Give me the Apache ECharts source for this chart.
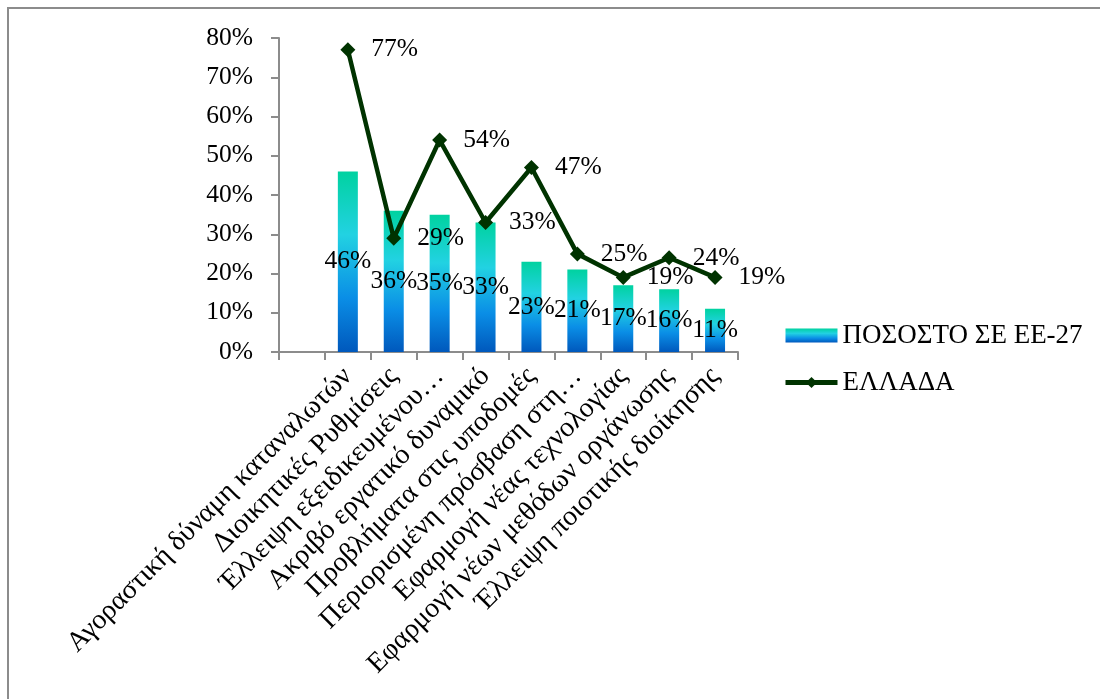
<!DOCTYPE html>
<html>
<head>
<meta charset="utf-8">
<script src="https://cdn.jsdelivr.net/npm/echarts@6/dist/echarts.min.js"></script>
<style>
  html, body { margin: 0; padding: 0; background: #fff; }
  #chart { width: 1100px; height: 699px; }
</style>
</head>
<body>
<div id="chart"></div>
<script>
// Categories (first slot is left empty on the axis)
const categories = [
  '',
  'Αγοραστική δύναμη καταναλωτών',
  'Διοικητικές Ρυθμίσεις',
  'Έλλειψη εξειδικευμένου…',
  'Ακριβό εργατικό δυναμικό',
  'Προβλήματα στις υποδομές',
  'Περιορισμένη πρόσβαση στη…',
  'Εφαρμογή νέας τεχνολογίας',
  'Εφαρμογή νέων μεθόδων οργάνωσης',
  'Έλλειψη ποιοτικής διοίκησης'
];
// Share in EU-27 (%)
const euValues = [null, 46, 36, 35, 33, 23, 21, 17, 16, 11];
// Greece (%)
const greeceValues = [null, 77, 29, 54, 33, 47, 25, 19, 24, 19];
// Value axis tick labels
const yTicks = [0, 10, 20, 30, 40, 50, 60, 70, 80];

const FONT = '"Liberation Serif", "Times New Roman", serif';
const FS = 25.5;
const chart = echarts.init(document.getElementById('chart'), null, { renderer: 'canvas' });

const barGradient = new echarts.graphic.LinearGradient(0, 0, 0, 1, [
  { offset: 0, color: '#00d2a0' },
  { offset: 0.35, color: '#22d2e2' },
  { offset: 0.7, color: '#0a8ee6' },
  { offset: 1, color: '#0058bc' }
]);

chart.setOption({
  animation: false,
  backgroundColor: '#ffffff',
  graphic: [{
    type: 'rect',
    shape: { x: 8, y: 8, width: 1200, height: 800 },
    style: { fill: 'none', stroke: '#8c8c8c', lineWidth: 2 },
    silent: true,
    z: -1
  }],
  grid: { left: 279, right: 362, top: 38, bottom: 347, containLabel: false },
  legend: {
    orient: 'vertical',
    left: 778,
    top: 317,
    itemWidth: 52,
    itemHeight: 14,
    itemGap: 20,
    textStyle: { fontFamily: FONT, fontSize: 27, color: '#000' },
    data: [
      { name: 'ΠΟΣΟΣΤΟ ΣΕ ΕΕ-27', icon: 'rect' },
      { name: 'ΕΛΛΑΔΑ' }
    ],
    lineStyle: { width: 5 }
  },
  xAxis: {
    type: 'category',
    data: categories,
    boundaryGap: true,
    axisLine: { lineStyle: { color: '#8c8c8c', width: 2 } },
    axisTick: { show: true, alignWithLabel: false, length: 8, lineStyle: { color: '#8c8c8c', width: 2 } },
    axisLabel: {
      interval: 0,
      rotate: 45,
      margin: 20,
      fontFamily: FONT,
      fontSize: 28,
      color: '#000'
    },
    splitLine: { show: false }
  },
  yAxis: {
    type: 'value',
    min: 0,
    max: 80,
    interval: 10,
    axisLine: { show: true, lineStyle: { color: '#8c8c8c', width: 2 } },
    axisTick: { show: true, length: 8, lineStyle: { color: '#8c8c8c', width: 2 } },
    axisLabel: {
      margin: 26,
      fontFamily: FONT,
      fontSize: FS,
      color: '#000',
      formatter: v => (yTicks.includes(v) ? v + '%' : '')
    },
    splitLine: { show: false }
  },
  series: [
    {
      name: 'ΠΟΣΟΣΤΟ ΣΕ ΕΕ-27',
      type: 'bar',
      data: euValues,
      barWidth: 20,
      itemStyle: { color: barGradient },
      label: {
        show: true,
        position: 'inside',
        formatter: p => p.value + '%',
        fontFamily: FONT,
        fontSize: FS,
        color: '#000'
      },
      z: 2
    },
    {
      name: 'ΕΛΛΑΔΑ',
      type: 'line',
      data: greeceValues,
      symbol: 'diamond',
      symbolSize: 15,
      connectNulls: false,
      lineStyle: { color: '#003300', width: 4.5 },
      itemStyle: { color: '#003300' },
      label: {
        show: true,
        position: 'right',
        distance: 16,
        formatter: p => p.value + '%',
        fontFamily: FONT,
        fontSize: FS,
        color: '#000'
      },
      z: 3
    }
  ]
});
</script>
</body>
</html>
